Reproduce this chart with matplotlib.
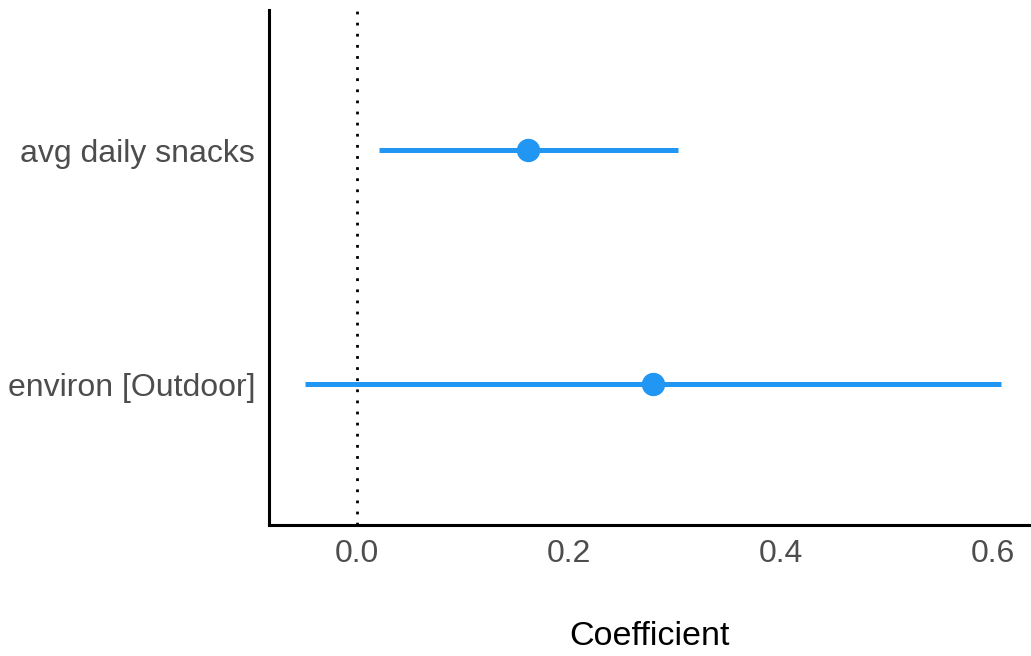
import numpy as np
import matplotlib.pyplot as plt

plt.rcParams['font.family'] = ['Liberation Sans', 'DejaVu Sans']

# model terms, bottom to top
terms = ['environ [Outdoor]', 'avg daily snacks']
estimate = [0.279, 0.161]
conf_low = [-0.049, 0.021]
conf_high = [0.608, 0.303]

x_ticks = [0.0, 0.2, 0.4, 0.6]
point_color = '#2196F3'

fig = plt.figure(figsize=(10.31, 6.56), dpi=100)
ax = fig.add_axes([0.2609, 0.2, 0.7391, 0.785])

ypos = np.arange(1, len(terms) + 1)

ax.axvline(0, color='black', lw=2.0, linestyle=(0, (1, 3.0)), zorder=1)
ax.hlines(ypos, conf_low, conf_high, color=point_color, lw=3.6, zorder=2)
ax.plot(estimate, ypos, 'o', color=point_color, markersize=15.8, zorder=3)

ax.set_xlim(-0.083, 0.636)
ax.set_ylim(0.4, 2.6)
ax.set_xticks(x_ticks)
ax.set_xticklabels([f'{t:.1f}' for t in x_ticks])
ax.set_yticks(ypos)
ax.set_yticklabels(terms)

ax.tick_params(axis='both', length=0, labelsize=23, labelcolor='#4D4D4D')
ax.tick_params(axis='x', pad=10)
ax.tick_params(axis='y', pad=10)

for side in ['top', 'right']:
    ax.spines[side].set_visible(False)
for side in ['left', 'bottom']:
    ax.spines[side].set_linewidth(2.2)
    ax.spines[side].set_color('black')

ax.set_xlabel('Coefficient', fontsize=24.5, color='black', labelpad=38)

fig.savefig('out.png', dpi=100)
